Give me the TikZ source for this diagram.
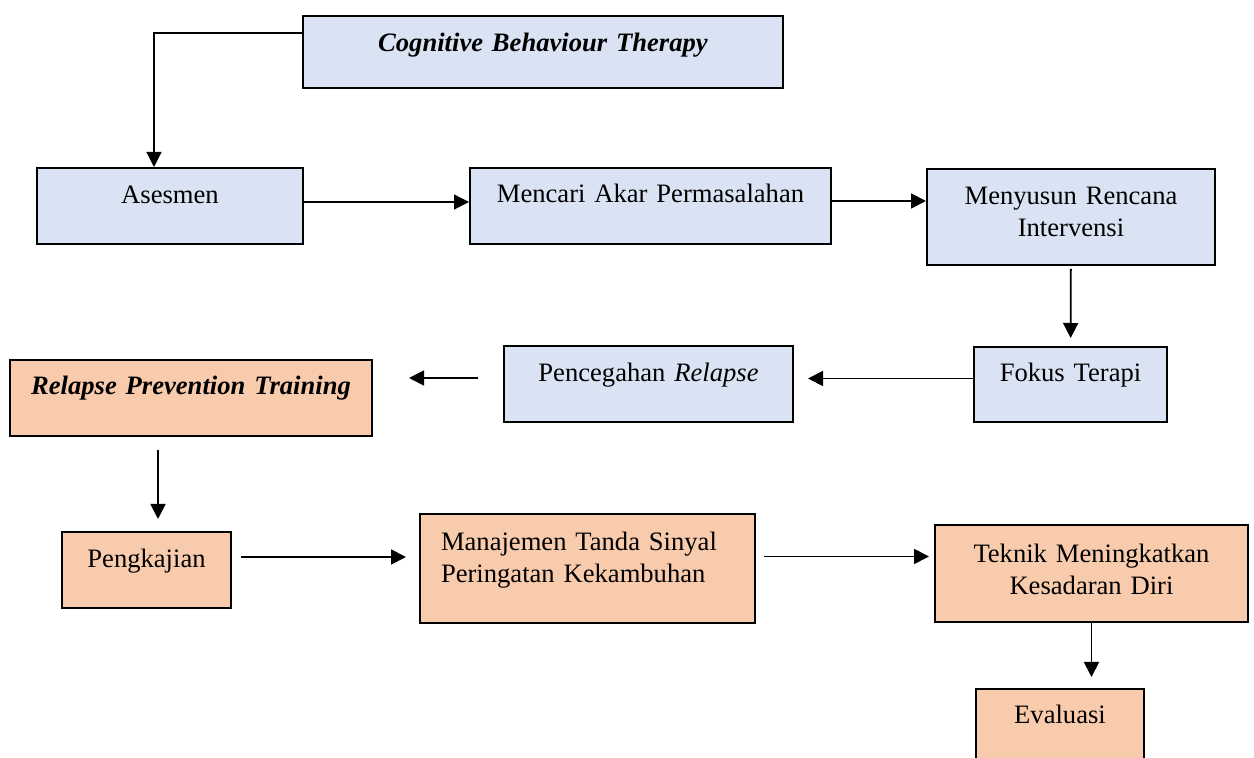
\documentclass[tikz,border=0pt]{standalone}
\usepackage{fontspec}
\setmainfont{Liberation Serif}
\usepackage{tikz}
\usetikzlibrary{arrows.meta}

\definecolor{biruMuda}{HTML}{DAE3F3}
\definecolor{jinggaMuda}{HTML}{F8CBAD}

\tikzset{
  blok/.style={draw, line width=1pt, inner xsep=0pt, inner ysep=0pt, align=center,
    font=\fontsize{13.3pt}{16pt}\selectfont},
  biru/.style={blok, fill=biruMuda},
  jingga/.style={blok, fill=jinggaMuda},
  panah/.style={-{Triangle[length=7.5pt,width=7.5pt]}, line width=0.9pt},
  tipis/.style={line width=0.6pt}
}

\begin{document}
\begin{tikzpicture}[x=0.5pt, y=-0.5pt]
\clip (0,0) rectangle (1254,758);
% baris atas
\node[biru, text width=240pt, text height=18pt, text depth=18pt] (cbt) at (543,52) {\textbf{\textit{Cognitive Behaviour Therapy}}};
\node[biru, text width=133pt, text height=18pt, text depth=20pt] (asesmen) at (170,206) {Asesmen};
\node[biru, text width=180.5pt, text height=17.5pt, text depth=20.5pt] (mencari) at (650.5,206) {Mencari Akar Permasalahan};
\node[biru, text width=144pt, text height=18pt, text depth=30pt] (menyusun) at (1071,217) {Menyusun Rencana\\Intervensi};
% baris tengah
\node[biru, text width=96.5pt, text height=17.5pt, text depth=20pt] (fokus) at (1070.5,384.5) {Fokus Terapi};
\node[biru, text width=144.5pt, text height=18pt, text depth=20pt] (pencegahan) at (648.5,384) {Pencegahan \textit{Relapse}};
\node[jingga, text width=181pt, text height=17.5pt, text depth=20.5pt] (rpt) at (191,398) {\textbf{\textit{Relapse Prevention Training}}};
% baris bawah
\node[jingga, text width=84.5pt, text height=18pt, text depth=20pt] (pengkajian) at (146.5,570) {Pengkajian};
\node[jingga, align=left, inner xsep=10.5pt, text width=146.5pt, text height=18.5pt, text depth=36pt] (manajemen) at (587.5,568.5) {Manajemen Tanda Sinyal\\Peringatan Kekambuhan};
\node[jingga, text width=156.5pt, text height=19pt, text depth=29.5pt] (teknik) at (1091.5,573.5) {Teknik Meningkatkan\\Kesadaran Diri};
\node[jingga, text width=84pt, text height=17.5pt, text depth=20.5pt] (evaluasi) at (1060,727) {Evaluasi};

% panah
\draw[panah, tipis] ([yshift=9.5pt]cbt.west) -| ([xshift=-8pt]asesmen.north);
\draw[panah, tipis] ([yshift=2pt]asesmen.east) -- ([yshift=2pt]mencari.west);
\draw[panah] ([yshift=2.5pt]mencari.east) -- ([yshift=2.5pt]mencari.east -| menyusun.west);
\draw[panah, shorten <=1.5pt, shorten >=4pt] (menyusun) -- (fokus);
\draw[panah, shorten >=7pt] ([yshift=3pt]fokus.west) -- ([yshift=3pt]fokus.west -| pencegahan.east);
\draw[panah, shorten <=12.5pt, shorten >=18pt] ([yshift=3pt]pencegahan.west) -- ([yshift=3pt]pencegahan.west -| rpt.east);
\draw[panah, shorten <=6.5pt, shorten >=6pt] ([xshift=-16.5pt]rpt.south) -- ([xshift=-16.5pt]rpt.south |- pengkajian.north);
\draw[panah, shorten <=4.5pt, shorten >=6.5pt] ([yshift=6.5pt]pengkajian.east) -- ([yshift=6.5pt]pengkajian.east -| manajemen.west);
\draw[panah, shorten <=4pt, shorten >=2.5pt] ([yshift=6pt]manajemen.east) -- ([yshift=6pt]manajemen.east -| teknik.west);
\draw[panah, shorten >=5.5pt] (teknik.south) -- (teknik.south |- evaluasi.north);
\end{tikzpicture}
\end{document}
